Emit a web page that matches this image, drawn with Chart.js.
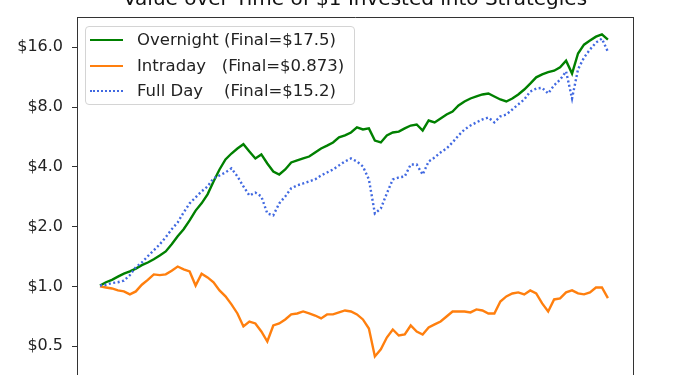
<!DOCTYPE html>
<html>
<head>
<meta charset="utf-8">
<script src="https://cdn.jsdelivr.net/npm/chart.js@4"></script>
<style>
  html, body { margin: 0; padding: 0; background: #fff; overflow: hidden; }
  body { width: 680px; height: 375px; position: relative; font-family: "DejaVu Sans", sans-serif; }
  #wrap { position: absolute; left: 0; top: -20px; width: 680px; height: 426px; }
  #legend {
    position: absolute; left: 85px; top: 26px; width: 268px; height: 77px;
    border: 1px solid #d4d4d4; border-radius: 4px; background: rgba(255,255,255,0.8);
    font-size: 16.5px; color: #222;
  }
  #legend .row { height: 25.5px; line-height: 25.5px; white-space: pre; position: relative; }
  #legend .swatch { position: absolute; left: 4px; top: 12px; width: 33px; height: 0; }
  #legend .txt { position: absolute; left: 51px; top: 0; }
</style>
</head>
<body>
<div id="wrap"><canvas id="valueChart" width="680" height="426"></canvas></div>
<div id="legend"></div>

<script>
// values, one point every ~6px along the x axis
const overnight = [
  1.01, 1.05, 1.08, 1.12, 1.16, 1.19, 1.23, 1.28, 1.32, 1.37,
  1.43, 1.50, 1.63, 1.79, 1.94, 2.15, 2.41, 2.62, 2.91, 3.38,
  3.88, 4.36, 4.67, 4.95, 5.20, 4.78, 4.41, 4.62, 4.16, 3.79,
  3.66, 3.88, 4.21, 4.31, 4.41, 4.51, 4.73, 4.95, 5.12, 5.31,
  5.63, 5.76, 5.96, 6.32, 6.17, 6.25, 5.43, 5.31, 5.76, 5.96,
  6.02, 6.25, 6.46, 6.54, 6.10, 6.85, 6.70, 7.01, 7.34, 7.60,
  8.15, 8.54, 8.84, 9.05, 9.26, 9.37, 9.05, 8.74, 8.54, 8.84,
  9.26, 9.81, 10.5, 11.3, 11.7, 12.0, 12.2, 12.7, 13.7, 11.8,
  14.9, 16.5, 17.3, 18.1, 18.6, 17.5
];
const intraday = [
  1.00, 0.988, 0.977, 0.955, 0.944, 0.912, 0.944, 1.02, 1.08, 1.15,
  1.14, 1.15, 1.20, 1.26, 1.22, 1.19, 1.01, 1.16, 1.11, 1.05,
  0.955, 0.891, 0.812, 0.731, 0.629, 0.666, 0.651, 0.593, 0.528, 0.636,
  0.651, 0.682, 0.723, 0.731, 0.748, 0.731, 0.714, 0.690, 0.723, 0.723,
  0.740, 0.757, 0.748, 0.723, 0.682, 0.614, 0.444, 0.482, 0.553, 0.607,
  0.566, 0.573, 0.636, 0.593, 0.573, 0.622, 0.644, 0.666, 0.706, 0.748,
  0.748, 0.748, 0.740, 0.766, 0.757, 0.731, 0.731, 0.840, 0.891, 0.922,
  0.933, 0.912, 0.955, 0.922, 0.821, 0.748, 0.860, 0.870, 0.933, 0.955,
  0.922, 0.912, 0.933, 0.988, 0.988, 0.873
];
const fullDay = [
  1.01, 1.02, 1.04, 1.05, 1.07, 1.14, 1.25, 1.32, 1.42, 1.52,
  1.63, 1.77, 1.94, 2.10, 2.36, 2.62, 2.81, 3.01, 3.19, 3.50,
  3.62, 3.75, 3.93, 3.58, 3.19, 2.87, 2.97, 2.84, 2.33, 2.28,
  2.62, 2.84, 3.12, 3.23, 3.30, 3.38, 3.46, 3.62, 3.75, 3.88,
  4.07, 4.26, 4.41, 4.26, 4.02, 3.46, 2.33, 2.47, 2.94, 3.46,
  3.54, 3.58, 4.11, 4.11, 3.66, 4.26, 4.46, 4.73, 4.95, 5.31,
  5.76, 6.17, 6.46, 6.70, 6.93, 7.09, 6.70, 7.18, 7.34, 7.78,
  8.25, 8.74, 9.58, 9.92, 10.0, 9.37, 10.3, 11.0, 12.1, 8.84,
  12.4, 14.2, 15.6, 16.9, 17.7, 15.2
];

const seriesNames = ['Overnight ', 'Intraday   ', 'Full Day    '];
const seriesColors = ['#008000', '#ff7f0e', '#4169e1'];
const yTicks = [0.5, 1, 2, 4, 8, 16];
const yMin = 0.354, yMax = 22.74;

const steps = overnight.map((v, i) => i);
const toPoints = arr => arr.map((v, i) => ({ x: steps[i], y: v }));

function label(name, arr) {
  return name + '(Final=$' + arr[arr.length - 1].toPrecision(3) + ')';
}

const ctx = document.getElementById('valueChart').getContext('2d');
const chart = new Chart(ctx, {
  type: 'line',
  data: {
    datasets: [
      {
        label: label(seriesNames[0], overnight),
        data: toPoints(overnight),
        borderColor: seriesColors[0],
        borderWidth: 2.4,
        order: 3
      },
      {
        label: label(seriesNames[1], intraday),
        data: toPoints(intraday),
        borderColor: seriesColors[1],
        borderWidth: 2.4,
        order: 2
      },
      {
        label: label(seriesNames[2], fullDay),
        data: toPoints(fullDay),
        borderColor: seriesColors[2],
        borderWidth: 2.4,
        borderDash: [2, 2.5],
        order: 1
      }
    ]
  },
  options: {
    responsive: false,
    animation: false,
    events: [],
    elements: { point: { radius: 0 }, line: { tension: 0, fill: false } },
    layout: { padding: { left: 0, right: 47, top: 0, bottom: 0 } },
    plugins: {
      legend: { display: false },
      tooltip: { enabled: false },
      title: {
        display: true,
        fullSize: false,
        text: 'Value over Time of $1 Invested into Strategies',
        color: '#111',
        font: { family: 'DejaVu Sans', size: 20, weight: 'normal' },
        padding: { top: 8, bottom: 5 }
      }
    },
    scales: {
      x: {
        type: 'linear',
        min: -3.85,
        max: 89.2,
        ticks: { display: false },
        grid: { display: false },
        border: { display: true, color: '#333', width: 1 },
        afterFit: s => { s.height = 30; }
      },
      xTop: {
        type: 'linear',
        position: 'top',
        ticks: { display: false },
        grid: { display: false },
        border: { display: true, color: '#333', width: 1 },
        afterFit: s => { s.height = 0; }
      },
      y: {
        type: 'logarithmic',
        min: yMin,
        max: yMax,
        // the log scale rounds its limits, put them back and use fixed ticks
        afterBuildTicks: s => {
          s.min = yMin;
          s.max = yMax;
          s.ticks = yTicks.map(v => ({ value: v }));
        },
        ticks: {
          color: '#222',
          padding: 9,
          font: { family: 'DejaVu Sans', size: 16 },
          callback: v => '$' + Number(v).toFixed(1)
        },
        grid: { display: true, drawOnChartArea: false, drawTicks: true, tickLength: 5, tickColor: '#333' },
        border: { display: true, color: '#333', width: 1 },
        afterFit: s => { s.width = 77; }
      },
      yRight: {
        type: 'linear',
        position: 'right',
        ticks: { display: false },
        grid: { display: false },
        border: { display: true, color: '#333', width: 1 },
        afterFit: s => { s.width = 0; }
      }
    }
  }
});

// legend box, drawn as html on top of the plot
const legendBox = document.getElementById('legend');
chart.data.datasets.forEach((ds, i) => {
  const row = document.createElement('div');
  row.className = 'row';
  const sw = document.createElement('span');
  sw.className = 'swatch';
  sw.style.borderTop = (i === 2 ? '2px dotted ' : '2px solid ') + seriesColors[i];
  const txt = document.createElement('span');
  txt.className = 'txt';
  txt.textContent = ds.label;
  row.appendChild(sw);
  row.appendChild(txt);
  legendBox.appendChild(row);
});
</script>
</body>
</html>
